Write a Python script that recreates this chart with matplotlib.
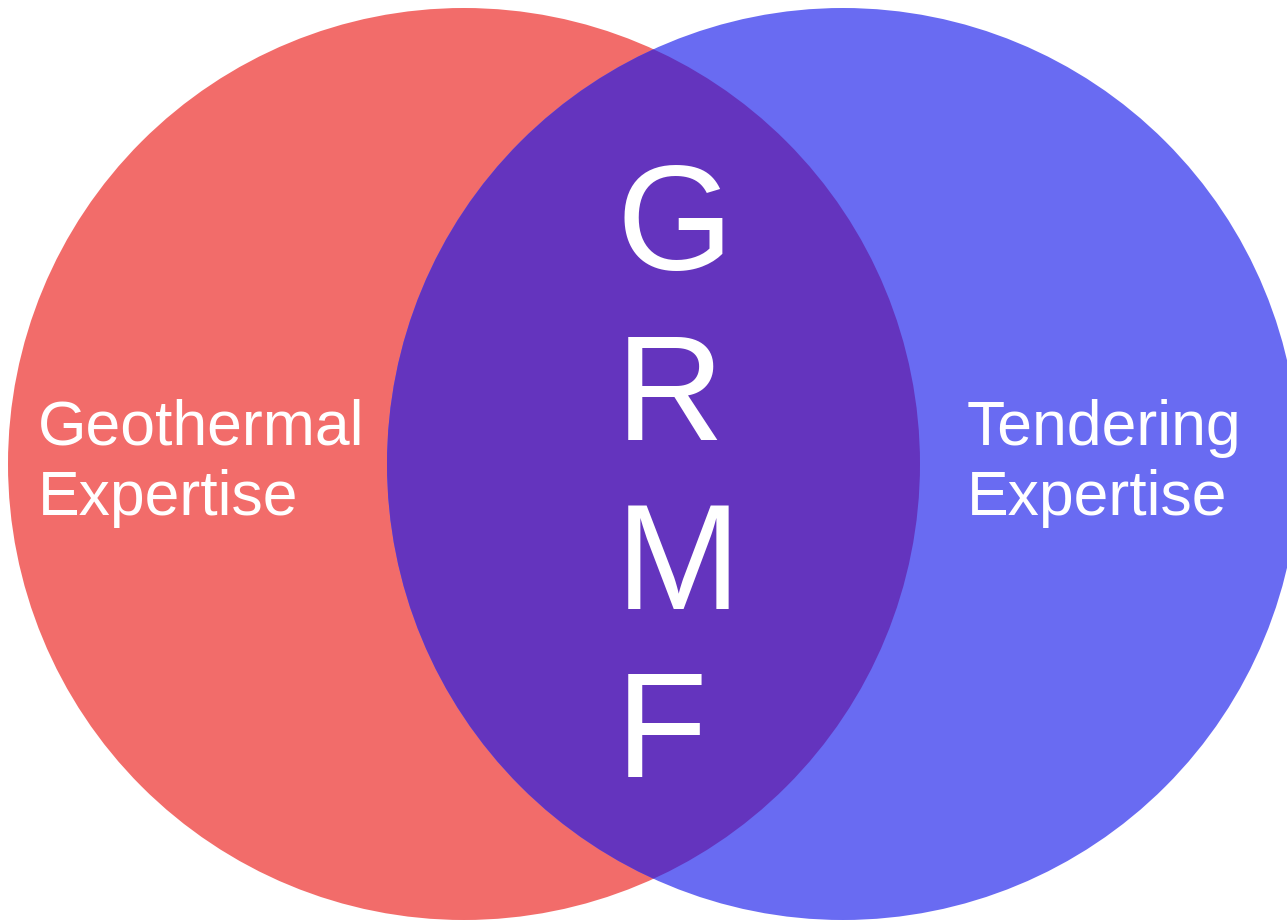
import matplotlib
matplotlib.use("Agg")
import matplotlib.pyplot as plt
from matplotlib.patches import Circle

# Content
set_labels = ["Geothermal\nExpertise", "Tendering\nExpertise"]
overlap_letters = ["G", "R", "M", "F"]
set_colors = ["#F26C6A", "#696BF2"]
overlap_color = "#6434BE"

W, H = 1287, 923
fig = plt.figure(figsize=(W / 100, H / 100), dpi=100)
ax = fig.add_axes([0, 0, 1, 1])
ax.set_xlim(0, W)
ax.set_ylim(H, 0)
ax.set_aspect("equal")
ax.axis("off")

r = 456
centers = [(464, 464), (843, 464)]
c1 = Circle(centers[0], r, facecolor=set_colors[0], edgecolor="none", zorder=1)
c2 = Circle(centers[1], r, facecolor=set_colors[1], edgecolor="none", zorder=1)
ax.add_patch(c1)
ax.add_patch(c2)
# overlap lens
lens = Circle(centers[1], r, facecolor=overlap_color, edgecolor="none", zorder=2)
ax.add_patch(lens)
clip = Circle(centers[0], r, transform=ax.transData, facecolor="none", edgecolor="none")
ax.add_patch(clip)
lens.set_clip_path(clip)

font = ["Liberation Sans", "DejaVu Sans"]
ax.text(38, 515, set_labels[0], color="white", fontsize=45, family=font,
        ha="left", va="baseline", linespacing=1.25, zorder=3)
ax.text(967, 515, set_labels[1], color="white", fontsize=45, family=font,
        ha="left", va="baseline", linespacing=1.25, zorder=3)

ys = [270, 440, 609, 777]
for letter, y in zip(overlap_letters, ys):
    ax.text(616, y, letter, color="white", fontsize=108, family=font,
            ha="left", va="baseline", zorder=3)

fig.savefig("out.png", dpi=100)
